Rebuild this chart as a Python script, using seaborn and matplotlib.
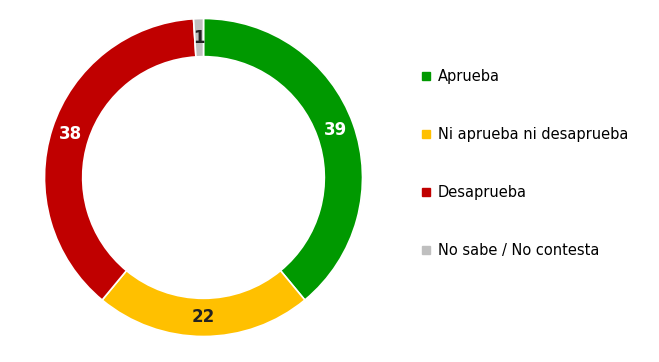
import matplotlib
matplotlib.use("Agg")
import matplotlib.pyplot as plt
import seaborn as sns
import numpy as np
from matplotlib.lines import Line2D

sns.set_theme(style="white")
plt.rcParams['font.family'] = ['DejaVu Sans']

categories = ['Aprueba', 'Ni aprueba ni desaprueba', 'Desaprueba', 'No sabe / No contesta']
values = [39, 22, 38, 1]
colors = ['#009900', '#FFC000', '#C00000', '#BFBFBF']
label_colors = ['white', '#222222', 'white', '#222222']

fig = plt.figure(figsize=(6.59, 3.62), dpi=100)
# pie axes: centre ~ (203, 178) px, radius ~159 px
ax = fig.add_axes([(203.5 - 160) / 659, (184.5 - 160) / 362, 320 / 659, 320 / 362])

wedges, _ = ax.pie(values, colors=colors, startangle=90, counterclock=False,
                   radius=1.0, wedgeprops=dict(width=0.24, edgecolor='white', linewidth=1.2))

total = sum(values)
cum = 0
for v, c in zip(values, label_colors):
    mid = cum + v / 2
    ang = np.deg2rad(90 - 360 * mid / total)
    r = 0.88
    ax.text(r * np.cos(ang), r * np.sin(ang), str(v), ha='center', va='center',
            fontsize=12, fontweight='bold', color=c)
    cum += v

ax.set_xlim(-160 / 159, 160 / 159)
ax.set_ylim(-160 / 159, 160 / 159)
ax.set_aspect('equal')
ax.axis('off')

handles = [Line2D([0], [0], marker='s', linestyle='none', markersize=6,
                  markerfacecolor=col, markeredgecolor=col) for col in colors]
fig.legend(handles, categories, loc='upper left', bbox_to_anchor=(422 / 659, 1 - 69 / 362),
           frameon=False, fontsize=10.5, handlelength=0.6, handletextpad=0.5,
           labelspacing=2.95, borderaxespad=0, borderpad=0, labelcolor='black')

fig.savefig('out.png', dpi=100)
